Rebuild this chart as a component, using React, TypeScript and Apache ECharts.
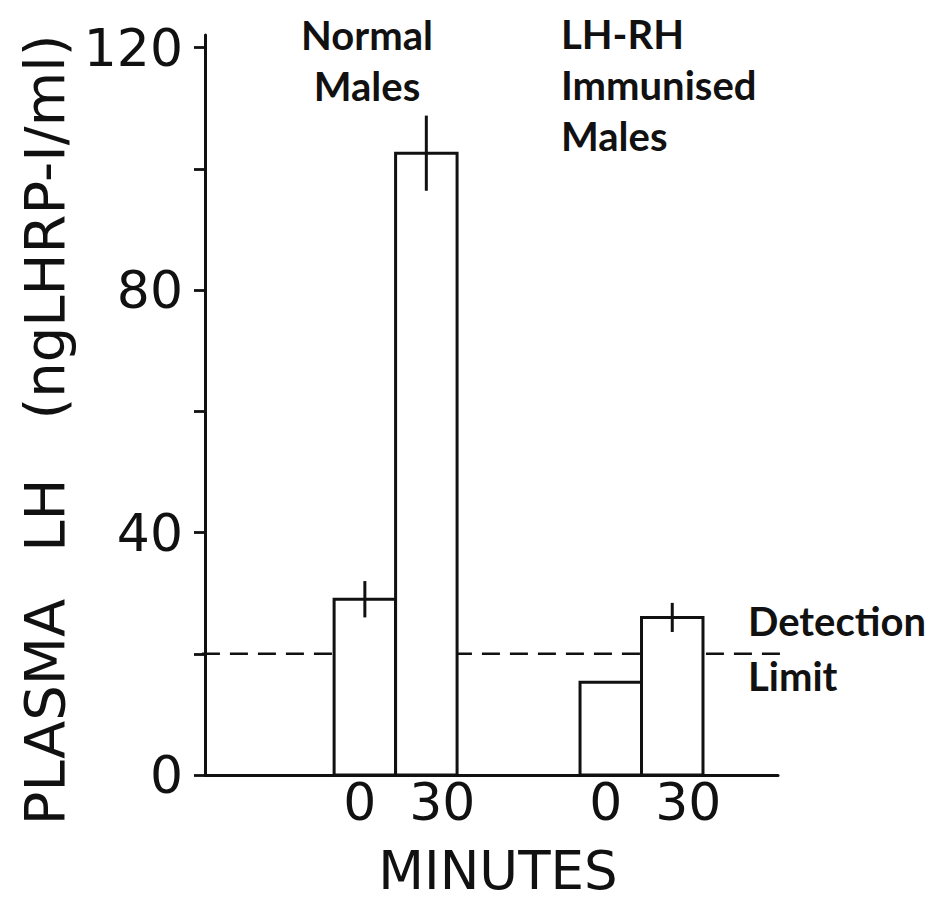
import React, { useEffect, useRef } from "react";
import * as echarts from "echarts";

// ---- data ----
const groupTitles = ["Normal\nMales", "LH-RH\nImmunised\nMales"];
const minuteLabels = ["0", "30"];
const normalMalesLH = [29, 102.6];
const normalMalesSEM = [3, 6.2];
const immunisedMalesLH = [15.3, 26];
const immunisedMalesSEM = [0, 2.4];
const detectionLimit = 20;
const yTickValues = [0, 20, 40, 60, 80, 100, 120];
const yLabelValues = [0, 40, 80, 120];
const yAxisTitleWords = ["PLASMA", "LH", "(ngLHRP-I/ml)"];
const xAxisTitle = "MINUTES";
const detectionText = ["Detection", "Limit"];

const INK = "#111111";
const LIGHT_FONT = '"DejaVu Sans", sans-serif';
const BOLD_FONT = 'Lato, "Liberation Sans", sans-serif';

export default function App() {
  const ref = useRef<HTMLDivElement>(null);

  useEffect(() => {
    if (!ref.current) return;
    const chart = echarts.init(ref.current, undefined, { renderer: "svg" });

    const groupsMeans = [normalMalesLH, immunisedMalesLH];
    const groupsSEM = [normalMalesSEM, immunisedMalesSEM];
    const barData: number[][] = [];
    const barLabels: string[] = [];
    groupsMeans.forEach((means, g) => {
      means.forEach((v, m) => {
        // slot layout: each bar occupies one unit, groups 4 units apart
        barData.push([2.6 + g * 4 + m, v, groupsSEM[g][m]]);
        barLabels.push(minuteLabels[m]);
      });
    });

    // centres (in px, along the rotated axis title) of each word of the y title
    const yTitleCentres = [712, 515, 227];

    const option: any = {
      animation: false,
      backgroundColor: "#ffffff",
      grid: { left: 205, right: 151, top: 35, bottom: 126, containLabel: false },
      xAxis: {
        type: "value",
        min: 0,
        max: 9.32,
        axisLine: { show: true, onZero: false, lineStyle: { color: INK, width: 3 } },
        axisTick: { show: false },
        axisLabel: { show: false },
        splitLine: { show: false },
      },
      yAxis: {
        type: "value",
        min: 0,
        max: 122.1,
        interval: 20,
        axisLine: { show: true, lineStyle: { color: INK, width: 3 } },
        axisTick: {
          show: true,
          customValues: yTickValues,
          length: 11,
          lineStyle: { color: INK, width: 2.8 },
        },
        axisLabel: {
          show: true,
          customValues: yLabelValues,
          margin: 22,
          color: INK,
          fontFamily: LIGHT_FONT,
          fontSize: 52,
        },
        splitLine: { show: false },
      },
      series: [
        {
          type: "custom",
          name: "Detection limit",
          z: 1,
          clip: false,
          data: [[detectionLimit]],
          renderItem: (params: any, api: any) => {
            const v = api.value(0);
            const a = api.coord([-0.05, v]);
            const b = api.coord([9.51, v]);
            return {
              type: "line",
              shape: { x1: a[0], y1: a[1], x2: b[0], y2: b[1] },
              style: { stroke: INK, lineWidth: 2.6, lineDash: [18, 10] },
            };
          },
        },
        {
          type: "custom",
          name: "Plasma LH",
          z: 3,
          clip: false,
          data: barData,
          renderItem: (params: any, api: any) => {
            const x = api.value(0);
            const v = api.value(1);
            const e = api.value(2);
            const lt = api.coord([x - 0.5, v]);
            const rb = api.coord([x + 0.5, 0]);
            const children: any[] = [
              {
                type: "rect",
                shape: { x: lt[0], y: lt[1], width: rb[0] - lt[0], height: rb[1] - lt[1] },
                style: { fill: "#ffffff", stroke: INK, lineWidth: 3 },
              },
            ];
            if (e > 0) {
              const t = api.coord([x, v + e]);
              const b = api.coord([x, v - e]);
              children.push({
                type: "line",
                shape: { x1: t[0], y1: t[1], x2: b[0], y2: b[1] },
                style: { stroke: INK, lineWidth: 3 },
              });
            }
            const base = api.coord([x, 0]);
            const lbl = barLabels[params.dataIndex];
            children.push({
              type: "text",
              style: {
                text: lbl,
                x: base[0] + (lbl === "30" ? 16 : -5),
                y: base[1] + 27,
                align: "center",
                verticalAlign: "middle",
                fill: INK,
                font: `52px ${LIGHT_FONT}`,
              },
            });
            return { type: "group", children };
          },
        },
      ],
      graphic: [
        ...yAxisTitleWords.map((w, i) => ({
          type: "text",
          x: 44,
          y: yTitleCentres[i],
          rotation: Math.PI / 2,
          style: {
            text: w,
            align: "center",
            verticalAlign: "middle",
            fill: INK,
            font: `56px ${LIGHT_FONT}`,
          },
        })),
        {
          type: "text",
          x: 498,
          y: 870,
          style: {
            text: xAxisTitle,
            align: "center",
            verticalAlign: "middle",
            fill: INK,
            font: `53px ${LIGHT_FONT}`,
            lineHeight: 44,
          },
        },
        ...groupTitles[0].split("\n").map((line, i) => ({
          type: "text",
          x: 367,
          y: 35 + i * 51,
          style: {
            text: line,
            align: "center",
            verticalAlign: "middle",
            fill: INK,
            font: `bold 40px ${BOLD_FONT}`,
          },
        })),
        ...groupTitles[1].split("\n").map((line, i) => ({
          type: "text",
          x: 561,
          y: 34 + i * 51,
          style: {
            text: line,
            align: "left",
            verticalAlign: "middle",
            fill: INK,
            font: `bold 40px ${BOLD_FONT}`,
          },
        })),
        ...detectionText.map((line, i) => ({
          type: "text",
          x: 748,
          y: 621 + i * 55,
          style: {
            text: line,
            align: "left",
            verticalAlign: "middle",
            fill: INK,
            font: `bold 40px ${BOLD_FONT}`,
          },
        })),
      ],
    };

    chart.setOption(option);
    return () => chart.dispose();
  }, []);

  return (
    <div
      ref={ref}
      style={{ position: "fixed", left: 0, top: 0, width: 929, height: 901, background: "#fff" }}
    />
  );
}
